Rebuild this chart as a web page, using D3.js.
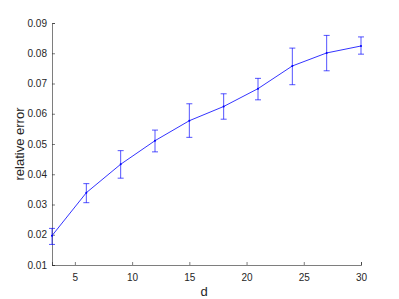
<!DOCTYPE html>
<html><head><meta charset="utf-8">
<script src="https://cdn.jsdelivr.net/npm/d3@7"></script>
<style>body{margin:0;background:#fff}svg{display:block}</style>
</head><body>
<script>
const dValues = [3, 6, 9, 12, 15, 18, 21, 24, 27, 30];
const meanError = [0.0197, 0.0339, 0.0433, 0.0511, 0.0577, 0.0624, 0.0683, 0.0758, 0.0801, 0.0824];
const upperError = [0.0221, 0.0369, 0.0478, 0.0546, 0.0633, 0.0666, 0.0717, 0.0817, 0.0859, 0.0854];
const lowerError = [0.0168, 0.0306, 0.0387, 0.0474, 0.0522, 0.0582, 0.0646, 0.0696, 0.0742, 0.0797];
const xTicks = [5, 10, 15, 20, 25, 30];
const yTicks = [0.01, 0.02, 0.03, 0.04, 0.05, 0.06, 0.07, 0.08, 0.09];

const W = 399, H = 299;
const svg = d3.select("body").append("svg").attr("width", W).attr("height", H);
const x = d3.scaleLinear().domain([3, 30]).range([52, 361]);
const y = d3.scaleLinear().domain([0.01, 0.09]).range([265, 23]);
const axisColor = "#262626";
const font = "Helvetica, Arial, 'Liberation Sans', sans-serif";

const gx = svg.append("g").attr("transform", "translate(0,265)")
  .call(d3.axisBottom(x).tickValues(xTicks).tickSize(-3).tickPadding(9).tickFormat(d3.format("d")));
const gy = svg.append("g").attr("transform", "translate(52,0)")
  .call(d3.axisLeft(y).tickValues(yTicks).tickSize(-3).tickPadding(5).tickFormat(d3.format(".2f")));
[gx, gy].forEach(g => {
  g.select(".domain").attr("stroke", axisColor).attr("stroke-width", 0.6);
  g.selectAll(".tick line").attr("stroke", axisColor).attr("stroke-width", 0.6);
  g.selectAll(".tick text").attr("fill", axisColor).style("font-family", font).style("font-size", "10px");
});

const blue = "#0000ff";
const data = dValues.map((d, i) => ({d, m: meanError[i], hi: upperError[i], lo: lowerError[i]}));
const eb = svg.append("g").attr("stroke", blue).attr("stroke-width", 0.9).attr("stroke-opacity", 0.75);
data.forEach(p => {
  const cx = x(p.d);
  eb.append("line").attr("x1", cx).attr("x2", cx).attr("y1", y(p.lo)).attr("y2", y(p.hi));
  eb.append("line").attr("x1", cx - 3).attr("x2", cx + 3).attr("y1", y(p.lo)).attr("y2", y(p.lo));
  eb.append("line").attr("x1", cx - 3).attr("x2", cx + 3).attr("y1", y(p.hi)).attr("y2", y(p.hi));
});
svg.append("path").datum(data)
  .attr("fill", "none").attr("stroke", blue).attr("stroke-width", 0.8)
  .attr("d", d3.line().x(p => x(p.d)).y(p => y(p.m)));
svg.append("g").selectAll("circle").data(data).join("circle")
  .attr("cx", p => x(p.d)).attr("cy", p => y(p.m)).attr("r", 1).attr("fill", blue);

svg.append("text").attr("x", 204).attr("y", 296).attr("text-anchor", "middle")
  .attr("fill", axisColor).style("font-family", font).style("font-size", "13px").text("d");
svg.append("text").attr("transform", "translate(24,144) rotate(-90)").attr("text-anchor", "middle")
  .attr("fill", axisColor).style("font-family", font).style("font-size", "13px").text("relative error");
</script>
</body></html>
